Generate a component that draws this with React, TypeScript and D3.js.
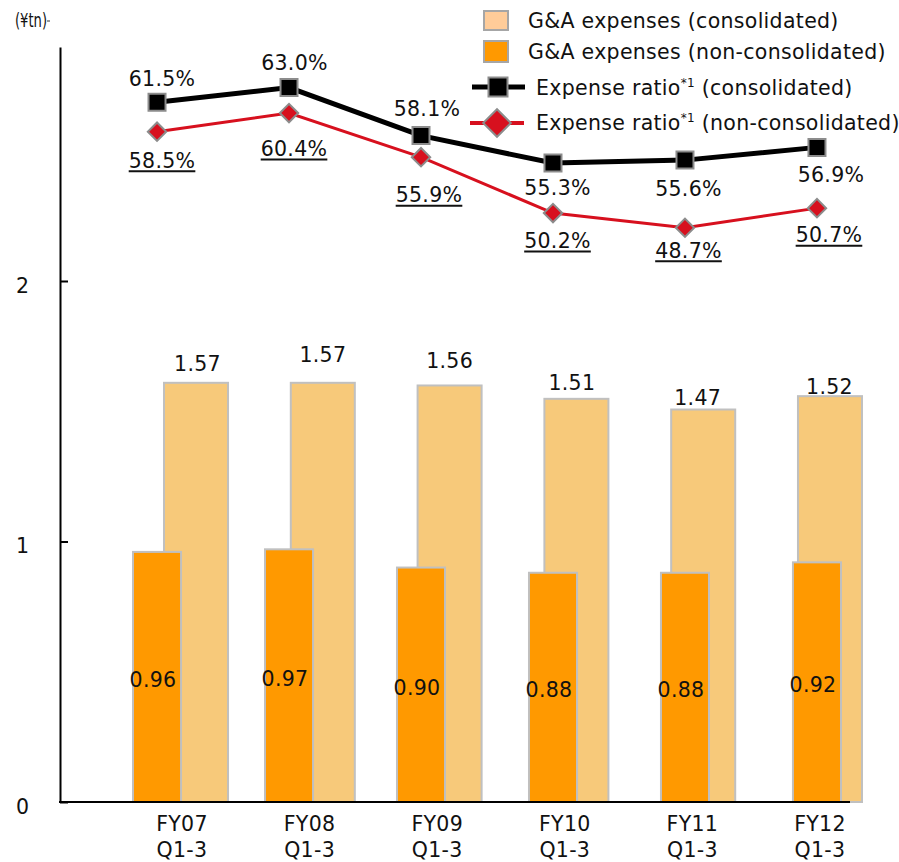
import { useEffect, useRef } from "react";
import * as d3 from "d3";

const CATEGORIES = ["FY07", "FY08", "FY09", "FY10", "FY11", "FY12"];
const CATEGORY_SUB = "Q1-3";
const GA_CONSOLIDATED = [1.57, 1.57, 1.56, 1.51, 1.47, 1.52];
const GA_NON_CONSOLIDATED = [0.96, 0.97, 0.9, 0.88, 0.88, 0.92];
const RATIO_CONSOLIDATED = [61.5, 63.0, 58.1, 55.3, 55.6, 56.9];
const RATIO_NON_CONSOLIDATED = [58.5, 60.4, 55.9, 50.2, 48.7, 50.7];
const Y_TICKS = [0, 1, 2];
const UNIT_LABEL = "(¥tn)";

// label placement (dx, dy from the point)
const CONS_LABEL_POS: [number, number][] = [[5, -16], [5.5, -18], [6, -20], [4.5, 32], [3.5, 36], [14, 35]];
const NON_LABEL_POS: [number, number][] = [[5, 36], [5, 43], [8, 45], [4.5, 35], [3.5, 30], [12, 34]];
const LIGHT_LABEL_POS: [number, number][] = [[1.5, -12], [0, -21], [0, -17], [-4.5, -9], [-5.5, -5], [-0.5, -2]];

const FONT = "'DejaVu Sans', Verdana, sans-serif";
const LIGHT = "#F7C97A";
const ORANGE = "#FF9900";
const RED = "#D7101E";
const GREY = "#C0C0C0";

export default function App() {
  const svgRef = useRef<SVGSVGElement>(null);

  useEffect(() => {
    if (!svgRef.current) return;
    const svg = d3.select(svgRef.current);
    svg.selectAll("*").remove();

    const X0 = 60;
    const BASE = 802;
    const TOP = 47;
    const XEND = 850;

    const xOrange = d3.scaleBand<string>().domain(CATEGORIES).range([133, 841]).paddingInner(0.636);
    const xLight = d3.scaleBand<string>().domain(CATEGORIES).range([164, 862]).paddingInner(0.495);
    const xLabel = d3.scalePoint<string>().domain(CATEGORIES).range([182, 820]);
    const y = d3.scaleLinear().domain([0, 1]).range([BASE, 541.5]);
    const yLight = d3.scaleLinear().domain([0, 1]).range([BASE, 535]);
    const yRatio = d3.scaleLinear().domain([0, 60]).range([705, 117]);
    const yAxisScale = d3.scaleLinear().domain([0, y.invert(TOP)]).range([BASE, TOP]);

    const txt = (sel: d3.Selection<SVGTextElement, unknown, null, undefined>) =>
      sel.attr("font-family", FONT).attr("font-size", 20.5).attr("letter-spacing", 0.3).attr("fill", "#111");

    // consolidated bars (behind)
    CATEGORIES.forEach((c, i) => {
      const v = GA_CONSOLIDATED[i];
      svg.append("rect")
        .attr("x", xLight(c)!).attr("y", yLight(v))
        .attr("width", xLight.bandwidth()).attr("height", BASE - yLight(v))
        .attr("fill", LIGHT).attr("stroke", GREY).attr("stroke-width", 2);
      const [dx, dy] = LIGHT_LABEL_POS[i];
      svg.append("text")
        .attr("x", xLight(c)! + xLight.bandwidth() / 2 + dx)
        .attr("y", yLight(v) + dy)
        .attr("text-anchor", "middle")
        .call(txt)
        .text(v.toFixed(2));
    });

    // non-consolidated bars (front)
    CATEGORIES.forEach((c, i) => {
      const v = GA_NON_CONSOLIDATED[i];
      svg.append("rect")
        .attr("x", xOrange(c)!).attr("y", y(v))
        .attr("width", xOrange.bandwidth()).attr("height", BASE - y(v))
        .attr("fill", ORANGE).attr("stroke", GREY).attr("stroke-width", 2);
      svg.append("text")
        .attr("x", xOrange(c)! + xOrange.bandwidth() / 2 - 4)
        .attr("y", (y(v) + BASE) / 2 + 10)
        .attr("text-anchor", "middle")
        .call(txt)
        .text(v.toFixed(2));
    });

    // axes
    svg.append("g")
      .attr("transform", `translate(${X0},0)`)
      .call(
        d3.axisLeft(yAxisScale).tickValues(Y_TICKS).tickSizeInner(-8).tickSizeOuter(0)
          .tickPadding(31).tickFormat(d3.format("d"))
      )
      .call((sel) => {
        sel.select(".domain").attr("stroke", "#000").attr("stroke-width", 2);
        sel.selectAll(".tick line").attr("stroke", "#000").attr("stroke-width", 2);
        sel.selectAll(".tick text")
          .attr("font-family", FONT).attr("font-size", 20.5).attr("fill", "#111").attr("dy", "0.55em");
      });
    svg.append("line")
      .attr("x1", X0 - 1).attr("x2", XEND).attr("y1", BASE).attr("y2", BASE)
      .attr("stroke", "#000").attr("stroke-width", 2);

    CATEGORIES.forEach((c) => {
      const t = svg.append("text").attr("text-anchor", "middle").call(txt);
      t.append("tspan").attr("x", xLabel(c)!).attr("y", 831).text(c);
      t.append("tspan").attr("x", xLabel(c)!).attr("y", 857).text(CATEGORY_SUB);
    });

    // unit label
    svg.append("text").attr("x", 15).attr("y", 27)
      .attr("font-family", FONT).attr("font-size", 20).attr("fill", "#111")
      .attr("textLength", 32).attr("lengthAdjust", "spacingAndGlyphs")
      .text(UNIT_LABEL);
    svg.append("line").attr("x1", 47).attr("x2", 50).attr("y1", 21).attr("y2", 21)
      .attr("stroke", "#333").attr("stroke-width", 1);

    // ratio lines
    const px = (c: string) => xOrange(c)! + xOrange.bandwidth() / 2;
    const line = d3.line<number>().x((_, i) => px(CATEGORIES[i])).y((v) => yRatio(v));

    svg.append("path").datum(RATIO_NON_CONSOLIDATED).attr("d", line)
      .attr("fill", "none").attr("stroke", RED).attr("stroke-width", 3);
    svg.append("path").datum(RATIO_CONSOLIDATED).attr("d", line)
      .attr("fill", "none").attr("stroke", "#000").attr("stroke-width", 5);

    const square = d3.symbol(d3.symbolSquare, 289);
    const diamond = d3.symbol(d3.symbolSquare, 169);

    CATEGORIES.forEach((c, i) => {
      svg.append("path").attr("d", diamond())
        .attr("transform", `translate(${px(c)},${yRatio(RATIO_NON_CONSOLIDATED[i])}) rotate(45)`)
        .attr("fill", RED).attr("stroke", "#8c8c8c").attr("stroke-width", 2);
      svg.append("path").attr("d", square())
        .attr("transform", `translate(${px(c)},${yRatio(RATIO_CONSOLIDATED[i])})`)
        .attr("fill", "#000").attr("stroke", "#8c8c8c").attr("stroke-width", 2);
    });

    CATEGORIES.forEach((c, i) => {
      const [dx1, dy1] = CONS_LABEL_POS[i];
      svg.append("text")
        .attr("x", px(c) + dx1).attr("y", yRatio(RATIO_CONSOLIDATED[i]) + dy1)
        .attr("text-anchor", "middle").call(txt)
        .text(`${RATIO_CONSOLIDATED[i].toFixed(1)}%`);

      const [dx2, dy2] = NON_LABEL_POS[i];
      const t = svg.append("text")
        .attr("x", px(c) + dx2).attr("y", yRatio(RATIO_NON_CONSOLIDATED[i]) + dy2)
        .attr("text-anchor", "middle").call(txt)
        .text(`${RATIO_NON_CONSOLIDATED[i].toFixed(1)}%`);
      const bb = (t.node() as SVGTextElement).getBBox();
      svg.append("line")
        .attr("x1", bb.x).attr("x2", bb.x + bb.width)
        .attr("y1", yRatio(RATIO_NON_CONSOLIDATED[i]) + dy2 + 3.5)
        .attr("y2", yRatio(RATIO_NON_CONSOLIDATED[i]) + dy2 + 3.5)
        .attr("stroke", "#111").attr("stroke-width", 2);
    });

    // legend
    const lg = svg.append("g");
    lg.append("rect").attr("x", 484).attr("y", 11).attr("width", 24).attr("height", 19)
      .attr("fill", "#FFCC99").attr("stroke", "#a6a6a6").attr("stroke-width", 2);
    lg.append("rect").attr("x", 484).attr("y", 41).attr("width", 24).attr("height", 21)
      .attr("fill", ORANGE).attr("stroke", "#a6a6a6").attr("stroke-width", 2);
    lg.append("text").attr("x", 528).attr("y", 28).call(txt).text("G&A expenses (consolidated)");
    lg.append("text").attr("x", 528).attr("y", 59).call(txt).text("G&A expenses (non-consolidated)");

    lg.append("line").attr("x1", 472).attr("x2", 525).attr("y1", 87).attr("y2", 87)
      .attr("stroke", "#000").attr("stroke-width", 5);
    lg.append("path").attr("d", d3.symbol(d3.symbolSquare, 361)())
      .attr("transform", "translate(498,87)")
      .attr("fill", "#000").attr("stroke", "#8c8c8c").attr("stroke-width", 2);
    lg.append("line").attr("x1", 470).attr("x2", 524).attr("y1", 123).attr("y2", 123)
      .attr("stroke", RED).attr("stroke-width", 4);
    lg.append("path").attr("d", d3.symbol(d3.symbolSquare, 380)())
      .attr("transform", "translate(497,123) rotate(45)")
      .attr("fill", RED).attr("stroke", "#8c8c8c").attr("stroke-width", 2);

    const ratioLegend = (yy: number, suffix: string) => {
      const t = lg.append("text").attr("x", 536).attr("y", yy).call(txt);
      t.append("tspan").text("Expense ratio");
      t.append("tspan").attr("font-size", 12).attr("dy", -8).text("*1");
      t.append("tspan").attr("dy", 8).text(` ${suffix}`);
    };
    ratioLegend(95, "(consolidated)");
    ratioLegend(130, "(non-consolidated)");
  }, []);

  return (
    <svg
      ref={svgRef}
      width={899}
      height={862}
      style={{ position: "absolute", left: 0, top: 0, display: "block", background: "#fff" }}
    />
  );
}
